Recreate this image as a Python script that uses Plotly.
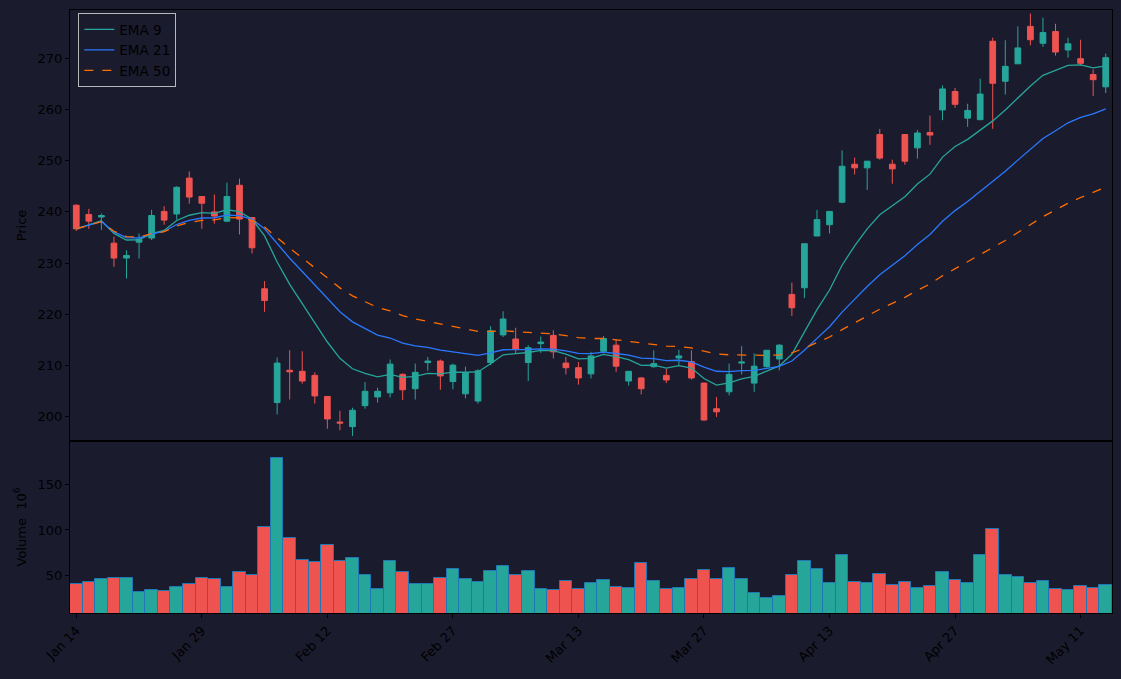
import plotly.graph_objects as go
import pandas as pd

# ---- data ----
tick_labels = ["Jan 14", "Jan 29", "Feb 12", "Feb 27", "Mar 13", "Mar 27", "Apr 13", "Apr 27", "May 11"]
tick_index = [0, 10, 20, 30, 40, 50, 60, 70, 80]

opens = [241.3, 239.5, 239.0, 233.9, 231.0, 234.1, 234.9, 240.1, 239.6, 246.6,
         243.0, 240.0, 238.2, 245.2, 238.9, 225.0, 202.8, 209.1, 208.9, 208.1,
         204.0, 199.0, 198.1, 202.2, 203.9, 204.7, 208.3, 205.5, 210.6, 210.9,
         206.9, 204.5, 203.1, 210.6, 216.0, 215.2, 210.6, 214.3, 215.9, 210.5,
         209.6, 208.4, 212.8, 214.0, 207.0, 207.6, 209.8, 208.1, 211.5, 210.8,
         206.6, 201.6, 204.9, 210.5, 206.6, 209.8, 211.3, 223.9, 225.2, 235.3,
         237.5, 241.9, 249.3, 248.6, 255.1, 249.3, 255.1, 252.5, 255.5, 259.9,
         263.5, 258.3, 258.0, 273.3, 265.5, 268.9, 276.2, 272.9, 275.2, 271.6,
         269.9, 266.8, 264.4]
highs = [241.5, 240.6, 239.7, 235.2, 232.5, 235.8, 240.4, 241.1, 245.0, 247.9,
         243.0, 243.4, 245.7, 246.5, 238.9, 226.5, 211.6, 213.0, 212.8, 208.7,
         204.0, 201.2, 201.8, 206.8, 205.7, 211.2, 208.5, 210.4, 211.7, 211.2,
         210.4, 209.8, 209.3, 217.7, 220.6, 217.4, 214.0, 215.7, 216.9, 211.7,
         210.7, 212.7, 215.8, 215.2, 208.9, 207.8, 213.0, 209.4, 213.1, 213.0,
         206.7, 203.9, 210.4, 213.8, 212.4, 213.0, 214.2, 226.2, 233.8, 240.4,
         240.1, 252.0, 250.6, 249.9, 256.2, 250.2, 255.1, 256.0, 258.8, 264.7,
         264.2, 261.1, 266.0, 274.0, 273.5, 276.2, 278.7, 277.9, 276.7, 274.0,
         273.6, 267.8, 270.9]
lows = [236.3, 236.7, 236.5, 229.3, 227.0, 230.9, 234.5, 237.5, 238.5, 241.6,
        236.7, 237.7, 238.0, 235.6, 231.9, 220.5, 200.5, 203.4, 206.5, 202.6,
        197.7, 197.4, 196.3, 201.6, 202.8, 203.8, 203.3, 203.4, 209.0, 205.3,
        205.4, 203.6, 202.6, 210.1, 215.6, 212.4, 207.0, 212.5, 211.4, 208.3,
        206.3, 207.5, 212.4, 208.8, 206.1, 204.4, 209.6, 206.6, 210.1, 207.3,
        199.2, 200.0, 204.2, 208.3, 204.9, 209.6, 209.1, 219.7, 223.2, 235.3,
        235.8, 241.7, 247.3, 244.3, 250.2, 245.5, 249.2, 250.4, 253.1, 257.9,
        260.3, 256.6, 257.9, 256.2, 262.9, 268.9, 272.5, 272.2, 270.5, 270.1,
        268.6, 262.6, 263.2]
closes = [236.7, 238.2, 239.3, 231.0, 231.5, 234.6, 239.3, 238.4, 244.8, 242.9,
          241.7, 239.2, 243.0, 238.6, 233.0, 222.7, 210.5, 208.8, 207.0, 204.1,
          199.6, 198.8, 201.3, 205.0, 205.0, 210.3, 205.3, 208.7, 210.9, 208.0,
          210.1, 208.6, 209.0, 216.8, 219.1, 213.2, 213.5, 214.6, 212.7, 209.6,
          207.6, 211.9, 215.3, 209.9, 208.9, 205.5, 210.4, 207.2, 211.9, 207.6,
          199.4, 201.0, 208.3, 210.7, 209.9, 213.0, 214.0, 221.3, 233.8, 238.5,
          240.1, 248.9, 248.6, 249.9, 250.5, 248.4, 249.9, 255.4, 255.0, 264.0,
          261.0, 259.8, 263.0, 265.1, 268.4, 272.0, 273.6, 275.0, 271.2, 272.8,
          269.0, 265.8, 270.1]
volumes_m = [40.8, 43.0, 46.3, 47.4, 47.4, 32.0, 34.2, 33.1, 37.5, 40.8,
             47.4, 46.3, 37.5, 54.0, 50.7, 103.7, 179.8, 91.5, 67.3, 65.1,
             83.8, 66.2, 69.5, 50.7, 35.3, 66.2, 54.0, 40.8, 40.8, 47.4,
             57.4, 46.3, 43.0, 55.1, 60.7, 50.7, 55.1, 35.3, 34.2, 44.1,
             35.3, 41.9, 45.2, 37.5, 36.4, 64.0, 44.1, 35.3, 36.4, 46.3,
             56.3, 46.3, 58.5, 46.3, 30.9, 25.4, 27.6, 50.7, 66.2, 57.4,
             41.9, 72.8, 43.0, 41.9, 51.8, 39.7, 43.0, 36.4, 38.6, 54.0,
             45.2, 41.9, 72.8, 101.5, 50.7, 48.5, 41.9, 44.1, 35.3, 34.2,
             38.6, 36.4, 39.7]
ema_spans = [9, 21, 50]

# ---- styling ----
BG = "#1b1b2e"
UP = "#26a69a"
DOWN = "#ef5350"
EMA_COLORS = {9: "#26a69a", 21: "#2979ff", 50: "#ff6d00"}
EMA_DASH = {9: "solid", 21: "solid", 50: "dash"}
FONT = "DejaVu Sans"

idx = list(range(len(closes)))
close_s = pd.Series(closes)
vol_colors = [UP if c >= o else DOWN for o, c in zip(opens, closes)]

fig = go.Figure()
fig.add_trace(go.Candlestick(
    x=idx, open=opens, high=highs, low=lows, close=closes,
    increasing=dict(line=dict(color=UP, width=1), fillcolor=UP),
    decreasing=dict(line=dict(color=DOWN, width=1), fillcolor=DOWN),
    whiskerwidth=0, showlegend=False, xaxis="x", yaxis="y", hoverinfo="skip",
))
for span in ema_spans:
    ema = close_s.ewm(span=span).mean()
    fig.add_trace(go.Scatter(
        x=idx, y=ema, mode="lines", name=f"EMA {span}",
        line=dict(color=EMA_COLORS[span], width=1.3, dash=EMA_DASH[span]),
        xaxis="x", yaxis="y",
    ))
fig.add_trace(go.Bar(
    x=idx, y=volumes_m, marker=dict(color=vol_colors, line=dict(color="#1f77b4", width=1)),
    showlegend=False, xaxis="x2", yaxis="y2",
))

axis_common = dict(
    showline=True, linecolor="black", linewidth=1, mirror=True,
    ticks="outside", ticklen=4, tickcolor="black", tickwidth=1,
    showgrid=False, zeroline=False,
    tickfont=dict(family=FONT, size=13, color="black"),
)
split = 172 / 603

fig.update_layout(
    width=1121, height=679,
    paper_bgcolor=BG, plot_bgcolor=BG,
    margin=dict(l=70, r=9, t=10, b=66),
    font=dict(family=FONT, size=13, color="black"),
    showlegend=True,
    legend=dict(x=0.008, y=0.995, xanchor="left", yanchor="top",
                bgcolor=BG, bordercolor="#b8b8b8", borderwidth=1,
                font=dict(family=FONT, size=13.5, color="black")),
    bargap=0.0,
    boxgap=0.35,
    xaxis=dict(domain=[0, 1], anchor="y", range=[-0.5, 82.5], showticklabels=False,
               rangeslider=dict(visible=False), ticks="", **{k: v for k, v in axis_common.items() if k != "ticks"}),
    yaxis=dict(domain=[split, 1], anchor="x", range=[195.3, 279.4],
               tickvals=[200, 210, 220, 230, 240, 250, 260, 270],
               title=dict(text="Price", standoff=8, font=dict(family=FONT, size=13, color="black")),
               **axis_common),
    xaxis2=dict(domain=[0, 1], anchor="y2", range=[-0.5, 82.5], matches="x",
                tickvals=tick_index, ticktext=tick_labels, tickangle=-45,
                **axis_common),
    yaxis2=dict(domain=[0, split], anchor="x2", range=[8.5, 198],
                tickvals=[50, 100, 150],
                title=dict(text="Volume  10<sup>6</sup>", standoff=8,
                           font=dict(family=FONT, size=13, color="black")),
                **axis_common),
)

fig.write_html("out.html")
